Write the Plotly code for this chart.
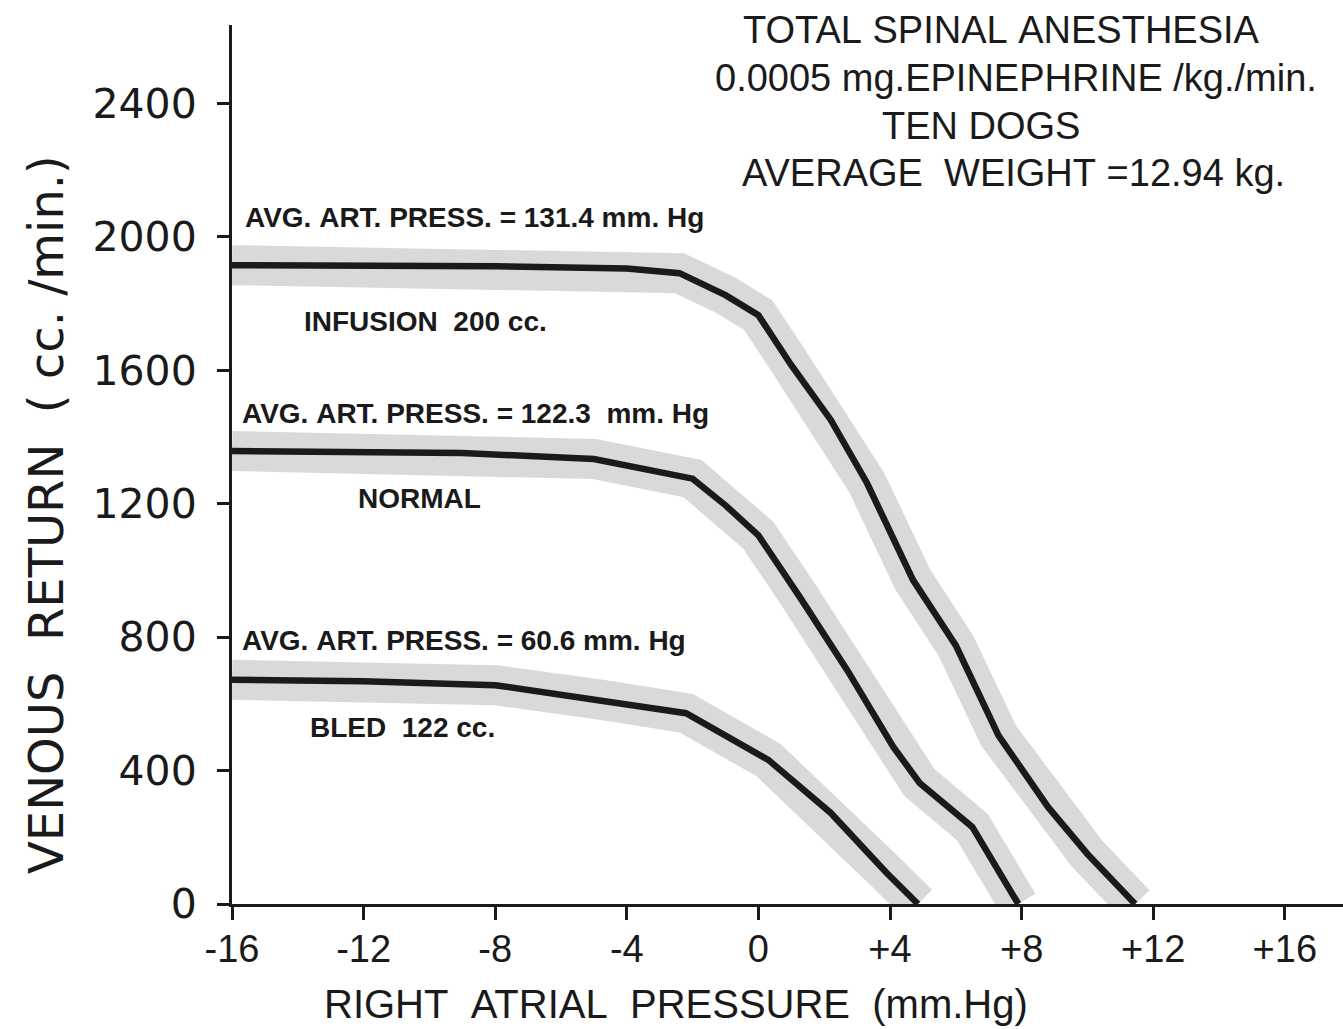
import plotly.graph_objects as go

# ---------------- data ----------------
pressure_infusion = [-16, -12, -8, -4, -2.4, -1, 0, 1, 2.2, 3.3, 4.7, 6.0, 7.3, 8.8, 10, 11.45]
venous_infusion = [1915, 1915, 1912, 1905, 1891, 1825, 1765, 1615, 1451, 1262, 971, 775, 505, 291, 150, 0]

pressure_normal = [-16, -12, -9, -5, -2, -1, 0, 1.26, 2.7, 4.1, 4.9, 6.5, 7.9]
venous_normal = [1358, 1355, 1352, 1334, 1275, 1195, 1105, 920, 701, 471, 363, 231, 0]

pressure_bled = [-16, -12, -8, -4.7, -2.2, 0.3, 2.2, 3.9, 4.85]
venous_bled = [672, 668, 656, 611, 572, 432, 273, 93, 0]

x_tick_vals = [-16, -12, -8, -4, 0, 4, 8, 12, 16]
x_tick_text = ["-16", "-12", "-8", "-4", "0", "+4", "+8", "+12", "+16"]
y_tick_vals = [0, 400, 800, 1200, 1600, 2000, 2400]
y_tick_text = ["0", "400", "800", "1200", "1600", "2000", "2400"]

curve_labels = [
    "AVG. ART. PRESS. = 131.4 mm. Hg", "INFUSION  200 cc.",
    "AVG. ART. PRESS. = 122.3  mm. Hg", "NORMAL",
    "AVG. ART. PRESS. = 60.6 mm. Hg", "BLED  122 cc.",
]
header_lines = [
    "TOTAL SPINAL ANESTHESIA",
    "0.0005 mg.EPINEPHRINE /kg./min.",
    "TEN DOGS",
    "AVERAGE  WEIGHT =12.94 kg.",
]
x_title = "RIGHT  ATRIAL  PRESSURE  (mm.Hg)"
y_title = "VENOUS  RETURN  ( cc. /min.)"

# ---------------- figure ----------------
W, H = 1343, 1029
ML, MR, MT, MB = 232, 0, 25, 125
PW, PH = W - ML - MR, H - MT - MB

TEXT_FONT = "Liberation Sans, Arial, sans-serif"
TICK_FONT = "DejaVu Sans, sans-serif"
INK = "#1a1a1a"

fig = go.Figure()
series = [
    (pressure_infusion, venous_infusion),
    (pressure_normal, venous_normal),
    (pressure_bled, venous_bled),
]
# gray scatter bands
for xs, ys in series:
    fig.add_trace(go.Scatter(x=xs, y=ys, mode="lines",
                             line=dict(color="rgba(165,165,165,0.42)", width=40),
                             hoverinfo="skip", showlegend=False))
# black mean curves
for xs, ys in series:
    fig.add_trace(go.Scatter(x=xs, y=ys, mode="lines",
                             line=dict(color=INK, width=6.5),
                             showlegend=False))


def px_to_paper(px, py):
    return (px - ML) / PW, (H - MB - py) / PH


def nb(s):
    return s.replace(" ", "\u00a0")


annotations = []
# curve labels (left x pixel, center y pixel)
label_pos = [(243, 218), (302, 321), (240, 413), (356, 498), (240, 640), (308, 727)]
for txt, (px, py) in zip(curve_labels, label_pos):
    ax, ay = px_to_paper(px, py)
    annotations.append(dict(x=ax, y=ay, xref="paper", yref="paper", text="<b>" + nb(txt) + "</b>",
                            showarrow=False, xanchor="left", yanchor="middle",
                            font=dict(family=TEXT_FONT, size=28, color=INK)))
# header lines
header_pos = [(1001, 30), (1016, 78), (981, 126), (1013, 173)]
for txt, (px, py) in zip(header_lines, header_pos):
    ax, ay = px_to_paper(px, py)
    annotations.append(dict(x=ax, y=ay, xref="paper", yref="paper", text=nb(txt),
                            showarrow=False, xanchor="center", yanchor="middle",
                            font=dict(family=TEXT_FONT, size=38, color=INK)))
# axis titles
ax, ay = px_to_paper(676, 1004)
annotations.append(dict(x=ax, y=ay, xref="paper", yref="paper", text=nb(x_title),
                        showarrow=False, xanchor="center", yanchor="middle",
                        font=dict(family=TEXT_FONT, size=40, color=INK)))
ax, ay = px_to_paper(46, 515)
annotations.append(dict(x=ax, y=ay, xref="paper", yref="paper", text=nb(y_title),
                        showarrow=False, xanchor="center", yanchor="middle", textangle=-90,
                        font=dict(family=TICK_FONT, size=48, color=INK)))

fig.update_layout(
    width=W, height=H,
    margin=dict(l=ML, r=MR, t=MT, b=MB, pad=0),
    paper_bgcolor="white", plot_bgcolor="white",
    annotations=annotations,
    showlegend=False,
)
x_range = [-16, -16 + PW / 32.9]
y_range = [0, PH / 0.3336]
fig.update_xaxes(range=x_range, tickvals=x_tick_vals, ticktext=x_tick_text,
                 showgrid=False, zeroline=False, showline=True, linecolor=INK, linewidth=3,
                 ticks="outside", ticklen=13, tickwidth=3, tickcolor=INK,
                 ticklabelstandoff=-4,
                 tickfont=dict(family=TEXT_FONT, size=38, color=INK))
fig.update_yaxes(range=y_range, tickvals=y_tick_vals, ticktext=y_tick_text,
                 showgrid=False, zeroline=False, showline=True, linecolor=INK, linewidth=3,
                 ticks="outside", ticklen=12, tickwidth=3, tickcolor=INK,
                 ticklabelstandoff=12,
                 tickfont=dict(family=TICK_FONT, size=41, color=INK))

fig.write_html("out.html")
